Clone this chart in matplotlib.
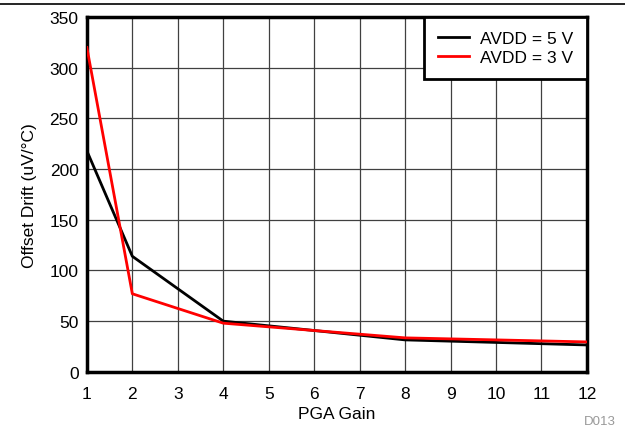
import numpy as np
import matplotlib.pyplot as plt
from matplotlib.lines import Line2D

# data
gain = [1, 2, 4, 8, 12]
drift_5v = [218, 114, 50, 31.5, 26.5]
drift_3v = [320, 77, 48, 33.5, 29.5]

plt.rcParams['font.family'] = ['Liberation Sans', 'DejaVu Sans']

fig = plt.figure(figsize=(6.25, 4.31), dpi=100)
ax = fig.add_axes([0.139, 0.135, 0.8, 0.823])

ax.plot(gain, drift_5v, color='black', linewidth=2, label='AVDD = 5 V', zorder=3)
ax.plot(gain, drift_3v, color='red', linewidth=2, label='AVDD = 3 V', zorder=3)

ax.set_xlim(1, 12)
ax.set_ylim(0, 350)
ax.set_xticks(np.arange(1, 13))
ax.set_yticks(np.arange(0, 351, 50))
ax.grid(True, color='#404040', linewidth=0.9)
ax.tick_params(length=0, labelsize=12.5)
ax.tick_params(axis='x', pad=10)
ax.tick_params(axis='y', pad=6)

for s in ax.spines.values():
    s.set_linewidth(2.5)

ax.set_xlabel('PGA Gain', fontsize=12.5, labelpad=4)
ax.set_ylabel('Offset Drift (uV/\u00b0C)', fontsize=12.5, labelpad=9)

leg = ax.legend(loc='upper right', fontsize=12.5, fancybox=False, framealpha=1,
                edgecolor='black', borderaxespad=0, handlelength=1.8,
                handletextpad=0.6, labelspacing=0.2, borderpad=0.8)
leg.get_frame().set_linewidth(2)

# separator line at the top and figure id
fig.add_artist(Line2D([0, 1], [0.988, 0.988], color='black', linewidth=1.2))
fig.text(0.985, 0.015, 'D013', color='#999999', fontsize=9.5, ha='right')

plt.savefig('out.png', dpi=100)
